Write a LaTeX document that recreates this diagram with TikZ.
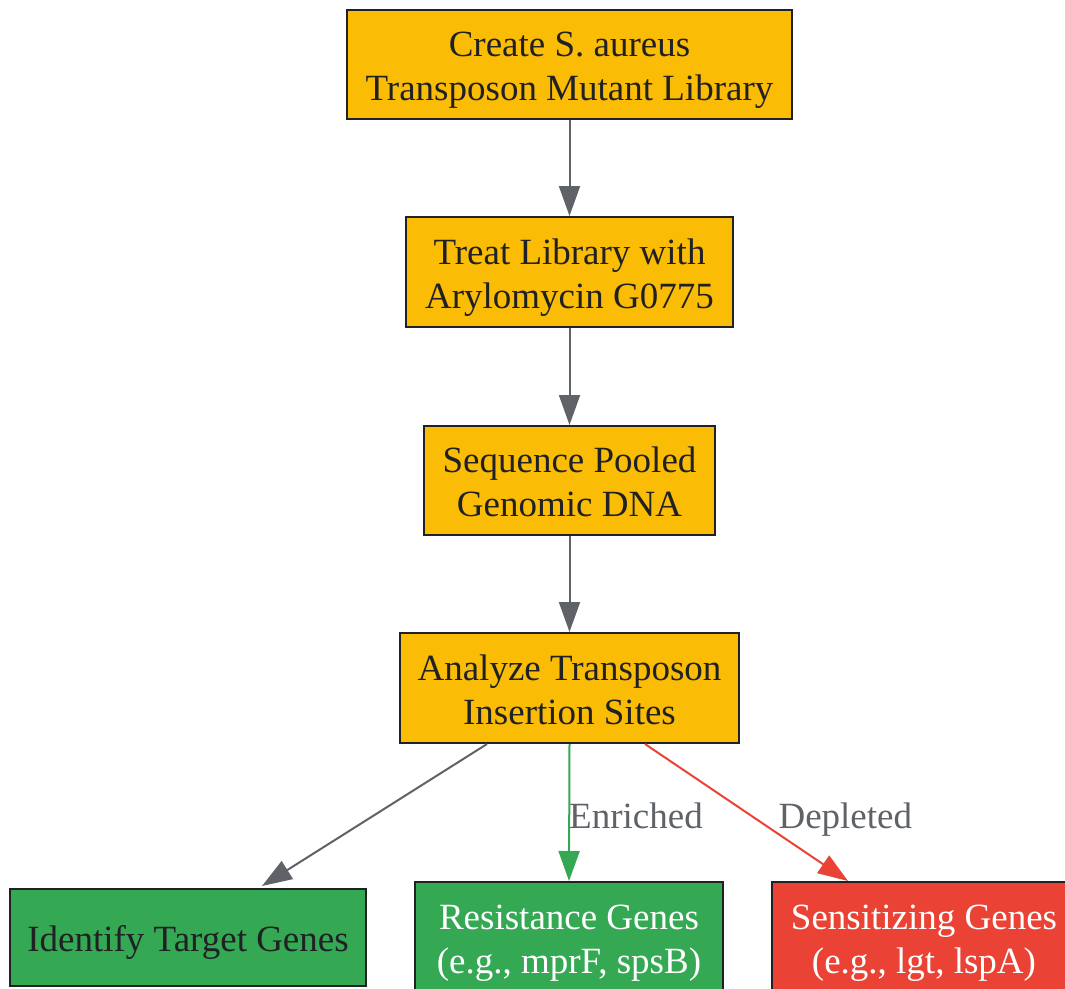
\documentclass[tikz,border=0pt]{standalone}
\usepackage{fontspec}
\setmainfont{Liberation Serif}
\usetikzlibrary{arrows.meta,calc}
\definecolor{stepyellow}{HTML}{FBBC05}
\definecolor{stepgreen}{HTML}{34A853}
\definecolor{stepred}{HTML}{EA4335}
\definecolor{edgegray}{HTML}{5F6368}
\definecolor{textdark}{HTML}{202124}
\begin{document}
\begin{tikzpicture}[x=1pt,y=-1pt,
  box/.style={draw=textdark, line width=2pt, align=center, inner sep=0pt,
    font=\fontsize{37}{44}\selectfont, text=textdark, text height=72pt, text depth=0pt},
  flow/.style={line width=2pt, -{Triangle[length=30pt,width=21pt]}},
  edgelabel/.style={font=\fontsize{37}{44}\selectfont, text=edgegray, inner sep=0pt,
    text height=26pt, text depth=8pt}]
\clip (0,0) rectangle (1065,988);
\node[box, fill=stepyellow, minimum width=445pt, minimum height=109pt] (create) at (569.5,64.5) {Create S. aureus\\Transposon Mutant Library};
\node[box, fill=stepyellow, minimum width=327pt, minimum height=110pt] (treat) at (569.5,272) {Treat Library with\\Arylomycin G0775};
\node[box, fill=stepyellow, minimum width=291pt, minimum height=109pt] (sequence) at (569.5,480.5) {Sequence Pooled\\Genomic DNA};
\node[box, fill=stepyellow, minimum width=339pt, minimum height=110pt] (analyze) at (569.5,688) {Analyze Transposon\\Insertion Sites};
\node[box, fill=stepgreen, text height=28pt, minimum width=356pt, minimum height=97pt] (identify) at (188,937.5) {Identify Target Genes};
\node[box, fill=stepgreen, text=white, minimum width=308pt, minimum height=110pt] (resist) at (569,937) {Resistance Genes\\(e.g., mprF, spsB)};
\node[box, fill=stepred, text=white, minimum width=304pt, minimum height=110pt] (sensit) at (924,937) {Sensitizing Genes\\(e.g., lgt, lspA)};
\draw[flow, edgegray] (create) -- (treat);
\draw[flow, edgegray] (treat) -- (sequence);
\draw[flow, edgegray] (sequence) -- (analyze);
\draw[flow, edgegray] ($(analyze.south)+(-82.5,0)$) -- ($(identify.north)+(74,-2)$);
\draw[flow, stepgreen] (analyze.south) -- (resist.north)
  node[edgelabel, pos=0.52, anchor=west, xshift=-1pt, yshift=-4pt] {Enriched};
\draw[flow, stepred] ($(analyze.south)+(75.5,0)$) -- ($(sensit.north)+(-76,0)$)
  node[edgelabel, pos=0.52, anchor=west, xshift=27pt, yshift=-4pt] {Depleted};
\end{tikzpicture}
\end{document}
